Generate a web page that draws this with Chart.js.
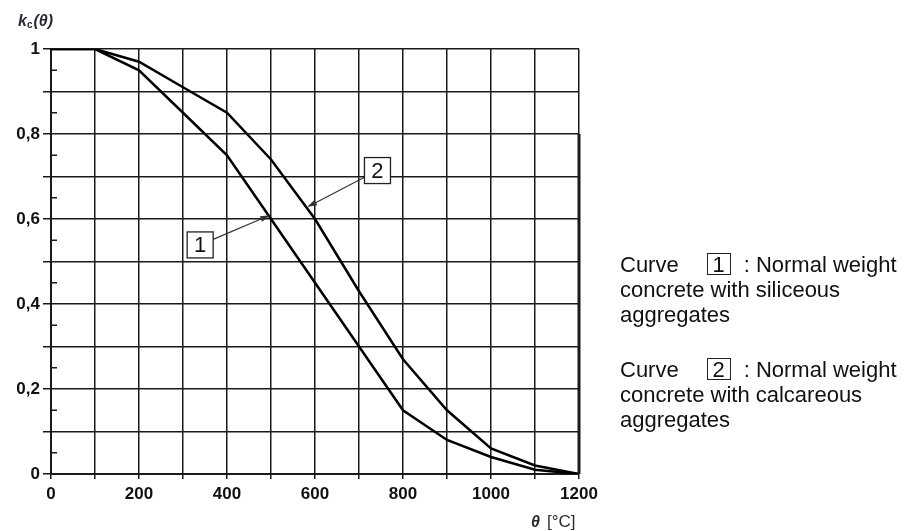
<!DOCTYPE html>
<html lang="en">
<head>
  <meta charset="UTF-8" />
  <title>Concrete strength reduction kc(θ)</title>
  <script src="https://cdn.jsdelivr.net/npm/chart.js"></script>
  <style>
    body {
      margin: 0;
      background: #fff;
      font-family: "Liberation Sans", Arial, sans-serif;
    }
    .wrap {
      position: relative;
      width: 909px;
      height: 531px;
    }
    canvas {
      position: absolute;
      left: 0;
      top: 0;
    }
    .legend {
      position: absolute;
      left: 620px;
      font-size: 22px;
      line-height: 25px;
      color: #111;
      white-space: nowrap;
    }
    .box {
      display: inline-block;
      box-sizing: border-box;
      width: 24px;
      height: 22px;
      line-height: 21px;
      margin: 1px 13px 0 28px;
      border: 1.3px solid #222;
      text-align: center;
      vertical-align: top;
    }
  </style>
</head>
<body>

<div class="wrap">
  <canvas id="kcChart" width="909" height="531"></canvas>
  <div class="legend" style="top:252px">Curve<span class="box">1</span>: Normal weight<br>concrete with siliceous<br>aggregates</div>
  <div class="legend" style="top:357px">Curve<span class="box">2</span>: Normal weight<br>concrete with calcareous<br>aggregates</div>
</div>

<script>
  // temperature θ [°C]
  const temps = [0, 100, 200, 300, 400, 500, 600, 700, 800, 900, 1000, 1100, 1200];
  // curve 1 - siliceous aggregates
  const siliceous = [1.00, 1.00, 0.95, 0.85, 0.75, 0.60, 0.45, 0.30, 0.15, 0.08, 0.04, 0.01, 0.00];
  // curve 2 - calcareous aggregates
  const calcareous = [1.00, 1.00, 0.97, 0.91, 0.85, 0.74, 0.60, 0.43, 0.27, 0.15, 0.06, 0.02, 0.00];

  // callout numbers: box centre and arrow tip, in data units
  const calloutText = ["1", "2"];
  const calloutBox = [[339, 0.539], [742, 0.714]];
  const calloutTip = [[498, 0.609], [582, 0.628]];

  const minorTicksY = [0.05, 0.15, 0.25, 0.35, 0.45, 0.55, 0.65, 0.75, 0.85, 0.95];

  const INK = "#1a1a1a";

  function toPoints(ys) {
    return temps.map((t, i) => ({ x: t, y: ys[i] }));
  }

  const extras = {
    id: "extras",
    afterDraw(chart) {
      const ctx = chart.ctx;
      const xs = chart.scales.x;
      const ys = chart.scales.y;
      ctx.save();

      // small inside ticks at the half steps
      ctx.strokeStyle = INK;
      ctx.lineWidth = 1.5;
      minorTicksY.forEach(v => {
        const py = ys.getPixelForValue(v);
        ctx.beginPath();
        ctx.moveTo(xs.left, py);
        ctx.lineTo(xs.left + 6, py);
        ctx.stroke();
      });

      // heavier right frame on the lower part
      ctx.lineWidth = 3;
      ctx.beginPath();
      ctx.moveTo(xs.getPixelForValue(1200), ys.getPixelForValue(0.8));
      ctx.lineTo(xs.getPixelForValue(1200), ys.getPixelForValue(0));
      ctx.stroke();

      // callouts
      calloutText.forEach((txt, i) => {
        const cx = xs.getPixelForValue(calloutBox[i][0]);
        const cy = ys.getPixelForValue(calloutBox[i][1]);
        const tx = xs.getPixelForValue(calloutTip[i][0]);
        const ty = ys.getPixelForValue(calloutTip[i][1]);
        const half = 13;
        // start the arrow on the box edge
        const dx = tx - cx, dy = ty - cy;
        const s = Math.min(half / Math.abs(dx || 1e-6), half / Math.abs(dy || 1e-6));
        const sx = cx + dx * s, sy = cy + dy * s;
        const ang = Math.atan2(ty - sy, tx - sx);
        ctx.strokeStyle = "#333";
        ctx.fillStyle = "#333";
        ctx.lineWidth = 1.2;
        ctx.beginPath();
        ctx.moveTo(sx, sy);
        ctx.lineTo(tx - 8 * Math.cos(ang), ty - 8 * Math.sin(ang));
        ctx.stroke();
        ctx.beginPath();
        ctx.moveTo(tx, ty);
        ctx.lineTo(tx - 10 * Math.cos(ang) + 3 * Math.sin(ang), ty - 10 * Math.sin(ang) - 3 * Math.cos(ang));
        ctx.lineTo(tx - 10 * Math.cos(ang) - 3 * Math.sin(ang), ty - 10 * Math.sin(ang) + 3 * Math.cos(ang));
        ctx.closePath();
        ctx.fill();

        ctx.fillStyle = "#fff";
        ctx.fillRect(cx - half, cy - half, half * 2, half * 2);
        ctx.strokeStyle = "#222";
        ctx.lineWidth = 1.3;
        ctx.strokeRect(cx - half, cy - half, half * 2, half * 2);
        ctx.fillStyle = "#111";
        ctx.font = "22px 'Liberation Sans', Arial, sans-serif";
        ctx.textAlign = "center";
        ctx.textBaseline = "middle";
        ctx.fillText(txt, cx, cy + 1);
      });

      // axis titles
      ctx.textAlign = "left";
      ctx.textBaseline = "alphabetic";
      ctx.fillStyle = "#2b2b33";
      ctx.font = "italic bold 16px 'Liberation Sans', Arial, sans-serif";
      ctx.fillText("k", 18, 26);
      let w = ctx.measureText("k").width;
      ctx.font = "bold 10px 'Liberation Sans', Arial, sans-serif";
      ctx.fillText("c", 18 + w, 28);
      w += ctx.measureText("c").width + 1;
      ctx.font = "italic bold 16px 'Liberation Sans', Arial, sans-serif";
      ctx.fillText("(θ)", 18 + w, 26);

      ctx.font = "italic bold 16px 'Liberation Sans', Arial, sans-serif";
      ctx.fillText("θ", 531, 527);
      ctx.font = "17px 'Liberation Sans', Arial, sans-serif";
      ctx.fillText("[°C]", 547, 527);

      ctx.restore();
    }
  };

  new Chart(document.getElementById("kcChart"), {
    type: "line",
    data: {
      datasets: [
        {
          label: "1",
          data: toPoints(siliceous),
          borderColor: "#000",
          borderWidth: 2.5,
          pointRadius: 0,
          tension: 0
        },
        {
          label: "2",
          data: toPoints(calcareous),
          borderColor: "#000",
          borderWidth: 2.5,
          pointRadius: 0,
          tension: 0
        }
      ]
    },
    options: {
      responsive: false,
      animation: false,
      layout: { padding: { left: 0, right: 330, top: 49, bottom: 0 } },
      plugins: {
        legend: { display: false },
        tooltip: { enabled: false }
      },
      scales: {
        x: {
          type: "linear",
          min: 0,
          max: 1200,
          afterFit: s => { s.height = 57; },
          ticks: {
            stepSize: 100,
            autoSkip: false,
            maxRotation: 0,
            padding: 5,
            color: "#111",
            font: { family: "'Liberation Sans', Arial, sans-serif", size: 17, weight: "bold" },
            callback: v => (Math.round(v) % 200 === 0 ? String(Math.round(v)) : "")
          },
          grid: { color: INK, lineWidth: 1.5, tickLength: 5 },
          border: { color: INK, width: 2 }
        },
        y: {
          min: 0,
          max: 1,
          afterFit: s => { s.width = 51; },
          ticks: {
            stepSize: 0.1,
            autoSkip: false,
            padding: 3,
            color: "#111",
            font: { family: "'Liberation Sans', Arial, sans-serif", size: 17, weight: "bold" },
            callback: v => {
              const n = Math.round(v * 10);
              if (n % 2 !== 0) return "";
              if (n === 0) return "0";
              if (n === 10) return "1";
              return "0," + n;
            }
          },
          grid: { color: INK, lineWidth: 1.5, tickLength: 8 },
          border: { color: INK, width: 2 }
        }
      }
    },
    plugins: [extras]
  });
</script>

</body>
</html>
